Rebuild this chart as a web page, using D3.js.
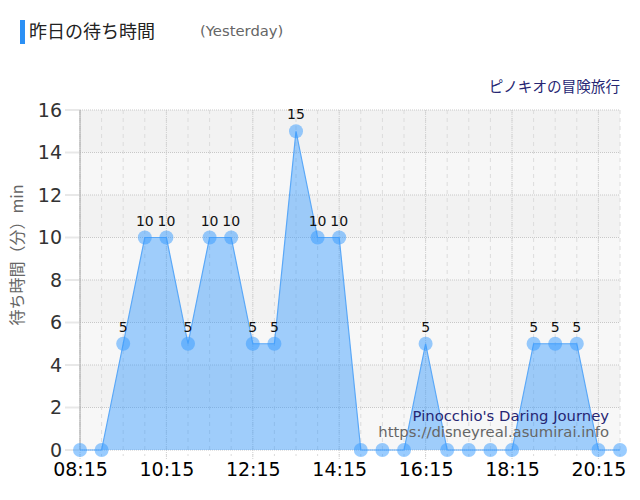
<!DOCTYPE html>
<html>
<head>
<meta charset="utf-8">
<script src="https://cdnjs.cloudflare.com/ajax/libs/d3/7.8.5/d3.min.js"></script>
<style>
  body { margin: 0; background: #fff; }
  svg { font-family: "DejaVu Sans", "Noto Sans CJK JP", sans-serif; }
</style>
</head>
<body>
<div id="container"></div>
<script>
// wait times from yesterday, every 30 min
var times = ["08:15","08:45","09:15","09:45","10:15","10:45","11:15","11:45",
             "12:15","12:45","13:15","13:45","14:15","14:45","15:15","15:45",
             "16:15","16:45","17:15","17:45","18:15","18:45","19:15","19:45",
             "20:15","20:45"];
var waits = [0,0,5,10,10,5,10,10,5,5,15,10,10,0,0,0,5,0,0,0,0,5,5,5,0,0];
var x_ticks = ["08:15","10:15","12:15","14:15","16:15","18:15","20:15"];
var y_ticks = [0,2,4,6,8,10,12,14,16];

var init = function(){
    var W = 640, H = 500;
    var left = 80, right = 620, top = 110, bottom = 450;

    var parse = d3.timeParse("%H:%M");
    var data = times.map(function(t, i){ return {t: parse(t), v: waits[i]}; });

    var svg = d3.select("#container").append("svg")
        .attr("width", W).attr("height", H);

    var x = d3.scaleTime()
        .domain([parse(times[0]), parse(times[times.length - 1])])
        .range([left, right]);
    var y = d3.scaleLinear().domain([0, 16]).range([bottom, top]);

    // alternating bands
    for (var i = 0; i < y_ticks.length - 1; i++){
        svg.append("rect")
            .attr("x", left).attr("width", right - left)
            .attr("y", y(y_ticks[i + 1]))
            .attr("height", y(y_ticks[i]) - y(y_ticks[i + 1]))
            .attr("fill", (i % 2 == 0) ? "#f7f7f7" : "#f2f2f2");
    }

    // minor vertical grid (each data point)
    svg.append("g").selectAll("line").data(data).enter().append("line")
        .attr("x1", function(d){ return x(d.t); })
        .attr("x2", function(d){ return x(d.t); })
        .attr("y1", top).attr("y2", bottom + 6)
        .attr("stroke", "#dcdcdc")
        .attr("stroke-dasharray", "4,4");

    // major vertical grid
    svg.append("g").selectAll("line").data(x_ticks).enter().append("line")
        .attr("x1", function(d){ return x(parse(d)); })
        .attr("x2", function(d){ return x(parse(d)); })
        .attr("y1", top).attr("y2", bottom + 10)
        .attr("stroke", "#d0d0d0")
        .attr("stroke-dasharray", "1,1");

    // horizontal grid
    var hg = svg.append("g").selectAll("g").data(y_ticks).enter().append("g");
    hg.append("line")
        .attr("x1", left).attr("x2", right)
        .attr("y1", function(d){ return y(d); })
        .attr("y2", function(d){ return y(d); })
        .attr("stroke", "#c8c8c8")
        .attr("stroke-dasharray", "1,1");
    hg.append("line")
        .attr("x1", left - 15).attr("x2", left)
        .attr("y1", function(d){ return y(d); })
        .attr("y2", function(d){ return y(d); })
        .attr("stroke", "#e8e8e8")
        .attr("stroke-width", 2);

    // left axis line
    svg.append("line")
        .attr("x1", left).attr("x2", left)
        .attr("y1", top).attr("y2", bottom)
        .attr("stroke", "#aaaaaa");

    // y labels
    var yAxis = d3.axisLeft(y).tickValues(y_ticks).tickSize(0).tickPadding(18);
    var ya = svg.append("g").attr("transform", "translate(" + left + ",0)").call(yAxis);
    ya.select(".domain").remove();
    ya.selectAll("text")
        .attr("font-size", "19px")
        .attr("font-family", "DejaVu Sans")
        .attr("fill", "#333");

    // x labels
    var xAxis = d3.axisBottom(x)
        .tickValues(x_ticks.map(parse))
        .tickFormat(d3.timeFormat("%H:%M"))
        .tickSize(0).tickPadding(13);
    var xa = svg.append("g").attr("transform", "translate(0," + bottom + ")").call(xAxis);
    xa.select(".domain").remove();
    xa.selectAll("text")
        .attr("font-size", "19px")
        .attr("font-family", "DejaVu Sans")
        .attr("fill", "#000");

    // area + line
    var area = d3.area()
        .x(function(d){ return x(d.t); })
        .y0(y(0))
        .y1(function(d){ return y(d.v); });
    var line = d3.line()
        .x(function(d){ return x(d.t); })
        .y(function(d){ return y(d.v); });

    svg.append("path").datum(data)
        .attr("d", area)
        .attr("fill", "rgba(51,153,255,0.45)");
    svg.append("path").datum(data)
        .attr("d", line)
        .attr("fill", "none")
        .attr("stroke", "#5aa8f8")
        .attr("stroke-width", 1.2);

    // markers
    svg.append("g").selectAll("circle").data(data).enter().append("circle")
        .attr("cx", function(d){ return x(d.t); })
        .attr("cy", function(d){ return y(d.v); })
        .attr("r", 7)
        .attr("fill", "rgba(51,153,255,0.5)");

    // value labels
    svg.append("g").selectAll("text")
        .data(data.filter(function(d){ return d.v > 0; }))
        .enter().append("text")
        .attr("x", function(d){ return x(d.t); })
        .attr("y", function(d){ return y(d.v) - 12; })
        .attr("text-anchor", "middle")
        .attr("font-size", "14px")
        .attr("fill", "#111")
        .text(function(d){ return d.v; });

    // titles
    svg.append("rect")
        .attr("x", 20).attr("y", 20).attr("width", 5).attr("height", 24)
        .attr("fill", "#2b90f5");
    svg.append("text")
        .attr("x", 29).attr("y", 38)
        .attr("font-size", "18px")
        .attr("font-family", "Noto Sans CJK JP")
        .attr("fill", "#222")
        .text("昨日の待ち時間");
    svg.append("text")
        .attr("x", 200).attr("y", 36)
        .attr("font-size", "14.8px")
        .attr("fill", "#666")
        .text("(Yesterday)");

    svg.append("text")
        .attr("x", 620).attr("y", 92)
        .attr("text-anchor", "end")
        .attr("font-size", "14.6px")
        .attr("font-family", "Noto Sans CJK JP")
        .attr("fill", "#262673")
        .text("ピノキオの冒険旅行");

    svg.append("text")
        .attr("transform", "translate(23,255) rotate(-90)")
        .attr("text-anchor", "middle")
        .attr("font-size", "16px")
        .attr("font-family", "Noto Sans CJK JP")
        .attr("fill", "#666")
        .text("待ち時間（分）min");

    svg.append("text")
        .attr("x", 609).attr("y", 421)
        .attr("text-anchor", "end")
        .attr("font-size", "14.8px")
        .attr("fill", "#262673")
        .text("Pinocchio's Daring Journey");
    svg.append("text")
        .attr("x", 609).attr("y", 437)
        .attr("text-anchor", "end")
        .attr("font-size", "14.8px")
        .attr("fill", "#666")
        .text("https://disneyreal.asumirai.info");
};

init();
</script>
</body>
</html>
